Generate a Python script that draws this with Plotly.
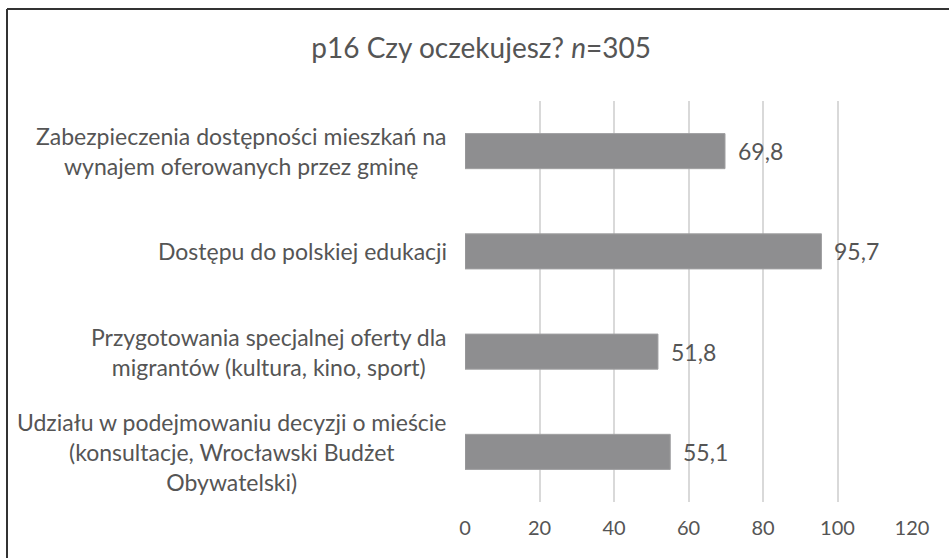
import plotly.graph_objects as go

# --- Data ---
CATEGORIES = [
    "Zabezpieczenia dostępności mieszkań na<br>wynajem oferowanych przez gminę",
    "Dostępu do polskiej edukacji",
    "Przygotowania specjalnej oferty dla<br>migrantów (kultura, kino, sport)",
    "Udziału w podejmowaniu decyzji o mieście<br>(konsultacje, Wrocławski Budżet<br>Obywatelski)",
]
VALUES = [69.8, 95.7, 51.8, 55.1]
X_TICKS = [0, 20, 40, 60, 80, 100, 120]

TEXT_COLOR = '#555555'
BAR_COLOR = '#8e8e90'
GRID_COLOR = '#d9d9d9'
FONT = 'Lato, Open Sans, sans-serif'

fig = go.Figure()

fig.add_trace(go.Bar(
    x=VALUES, y=CATEGORIES, orientation='h', width=0.35,
    marker=dict(color=BAR_COLOR, line=dict(color='#a0a0a2', width=1)),
    hoverinfo='x+y', showlegend=False,
))

# category labels: right edge fixed, lines centred within the block
for cat in CATEGORIES:
    fig.add_annotation(x=0, xref='paper', y=cat, yref='y', text=cat,
                       xanchor='right', xshift=-16, align='center',
                       showarrow=False, font=dict(size=23, color=TEXT_COLOR, family=FONT))

# value labels with decimal comma
for cat, v in zip(CATEGORIES, VALUES):
    fig.add_annotation(x=v, y=cat, text=f"{v:.1f}".replace('.', ','),
                       xanchor='left', xshift=11, showarrow=False,
                       font=dict(size=23, color=TEXT_COLOR, family=FONT))

# outer frame: only the top and left edges fall inside the crop
frame_left = -458 / 447
frame_top = 1 + 92 / 401
frame_line = dict(color='#333333', width=2)
fig.add_shape(type='line', xref='paper', yref='paper',
              x0=frame_left, x1=frame_left, y0=-1, y1=frame_top, line=frame_line)
fig.add_shape(type='line', xref='paper', yref='paper',
              x0=frame_left, x1=2, y0=frame_top, y1=frame_top, line=frame_line)

fig.update_layout(
    width=949, height=558,
    margin=dict(l=465, r=37, t=101, b=56),
    paper_bgcolor='white', plot_bgcolor='white',
    title=dict(text="p16 Czy oczekujesz? <i>n</i>=305", x=0.507, xanchor='center',
               y=1 - 48 / 558, yanchor='middle',
               font=dict(size=28, color=TEXT_COLOR, family=FONT)),
    font=dict(family=FONT, color=TEXT_COLOR),
)
fig.update_xaxes(range=[0, 120], tickvals=X_TICKS, showgrid=True, gridcolor=GRID_COLOR,
                 gridwidth=1.5, zeroline=False, showline=False, ticks='',
                 ticklabelstandoff=12, tickfont=dict(size=20, color=TEXT_COLOR, family=FONT))
fig.update_yaxes(autorange='reversed', showticklabels=False, showgrid=False,
                 zeroline=False, showline=False, ticks='')

fig.write_html("out.html", config={'displayModeBar': False},
               post_script="document.body.style.margin='0';document.body.style.overflow='hidden';")
